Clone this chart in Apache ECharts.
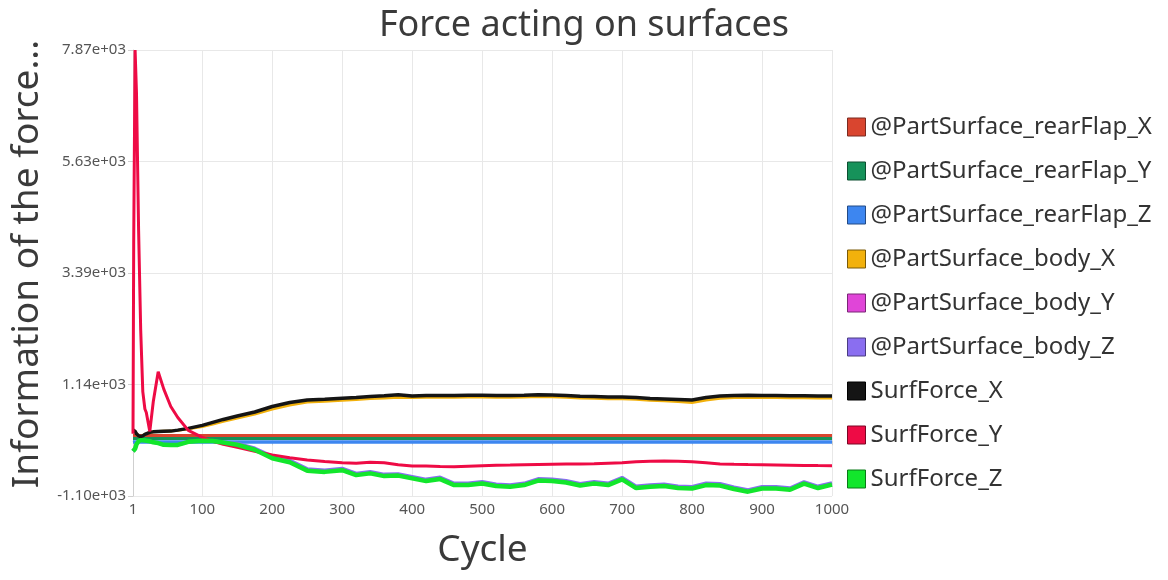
<!DOCTYPE html>
<html>
<head>
<meta charset="utf-8">
<script src="https://cdn.jsdelivr.net/npm/echarts@6/dist/echarts.min.js"></script>
<style>
html,body{margin:0;padding:0;background:#fff;}
#chart{width:1168px;height:580px;}
</style>
</head>
<body>
<div id="chart"></div>
<script>
const title = 'Force acting on surfaces';
const xName = 'Cycle';
const yName = 'Information of the force...';
const xTicks = [1, 100, 200, 300, 400, 500, 600, 700, 800, 900, 1000];
const yMin = -1100, yMax = 7870, yStep = 2242.5;

const cycles = [1, 2, 4, 6, 9, 12, 15, 18, 20, 25, 30, 37, 45, 55, 65, 80, 100, 115, 130, 150, 175, 200, 225, 250, 275, 300, 320, 340, 360, 380, 400, 420, 440, 460, 480, 500, 520, 540, 560, 580, 600, 620, 640, 660, 680, 700, 720, 740, 760, 780, 800, 820, 840, 860, 880, 900, 920, 940, 960, 980, 1000];

const seriesNames = ['@PartSurface_rearFlap_X', '@PartSurface_rearFlap_Y', '@PartSurface_rearFlap_Z', '@PartSurface_body_X', '@PartSurface_body_Y', '@PartSurface_body_Z', 'SurfForce_X', 'SurfForce_Y', 'SurfForce_Z'];
const colors = ['#d9452f', '#16925a', '#3d86f0', '#f2b10c', '#e045d8', '#8a6ef0', '#151515', '#ee0b45', '#12e62c'];
const borders = ['#7a2a20', '#0c4f31', '#234a85', '#7a5a08', '#7a2676', '#4a3c82', '#000000', '#7a0624', '#0a7a18'];

const rearFlapX = [115, 115, 115, 115, 115, 115, 115, 115, 115, 115, 115, 115, 115, 115, 115, 115, 115, 115, 115, 115, 115, 115, 115, 115, 115, 115, 115, 115, 115, 115, 115, 115, 115, 115, 115, 115, 115, 115, 115, 115, 115, 115, 115, 115, 115, 115, 115, 115, 115, 115, 115, 115, 115, 115, 115, 115, 115, 115, 115, 115, 115];
const rearFlapY = [55, 55, 55, 55, 55, 55, 55, 55, 55, 55, 55, 55, 55, 55, 55, 55, 55, 55, 55, 55, 55, 55, 55, 55, 55, 55, 55, 55, 55, 55, 55, 55, 55, 55, 55, 55, 55, 55, 55, 55, 55, 55, 55, 55, 55, 55, 55, 55, 55, 55, 55, 55, 55, 55, 55, 55, 55, 55, 55, 55, 55];
const rearFlapZ = [-15, -15, -15, -15, -15, -15, -15, -15, -15, -15, -15, -15, -15, -15, -15, -15, -15, -15, -15, -15, -15, -15, -15, -15, -15, -15, -15, -15, -15, -15, -15, -15, -15, -15, -15, -15, -15, -15, -15, -15, -15, -15, -15, -15, -15, -15, -15, -15, -15, -15, -15, -15, -15, -15, -15, -15, -15, -15, -15, -15, -15];
const bodyX = [230, 240, 200, 150, 110, 95, 110, 140, 150, 180, 190, 195, 200, 205, 220, 250, 295, 345, 400, 470, 550, 650, 730, 790, 805, 825, 840, 860, 870, 885, 880, 885, 885, 885, 890, 890, 885, 885, 890, 900, 895, 885, 870, 865, 855, 855, 845, 825, 815, 800, 780, 830, 865, 880, 885, 880, 880, 875, 875, 872, 870];
const bodyY = [80, 80, 80, 80, 80, 80, 80, 80, 80, 80, 80, 80, 80, 80, 80, 80, 80, 80, 80, 80, 80, 80, 80, 80, 80, 80, 80, 80, 80, 80, 80, 80, 80, 80, 80, 80, 80, 80, 80, 80, 80, 80, 80, 80, 80, 80, 80, 80, 80, 80, 80, 80, 80, 80, 80, 80, 80, 80, 80, 80, 80];
const bodyZ = [-200, -230, -150, -60, 0, 20, 20, 15, 10, 0, -20, -35, -70, -76, -72, -10, 12, 5, -20, -45, -140, -300, -385, -555, -580, -545, -645, -610, -665, -655, -710, -765, -725, -845, -845, -815, -865, -878, -845, -755, -765, -795, -855, -815, -845, -730, -905, -878, -865, -905, -915, -845, -855, -925, -978, -915, -915, -940, -815, -905, -835];
const surfX = [230, 240, 200, 150, 110, 95, 110, 140, 150, 180, 190, 195, 200, 205, 225, 260, 320, 380, 440, 510, 590, 700, 780, 830, 845, 865, 880, 900, 915, 935, 910, 920, 920, 920, 925, 925, 920, 920, 925, 935, 930, 920, 905, 900, 890, 890, 880, 860, 850, 840, 830, 880, 910, 920, 925, 920, 920, 915, 915, 912, 910];
const surfY = [150, 4000, 7870, 7000, 4250, 2240, 1000, 650, 580, 200, 800, 1400, 1050, 700, 480, 220, 80, 0, -60, -120, -200, -275, -330, -376, -405, -430, -443, -420, -430, -470, -495, -497, -505, -511, -500, -490, -480, -477, -470, -465, -460, -458, -457, -450, -440, -430, -412, -400, -396, -400, -410, -430, -455, -462, -468, -470, -475, -480, -485, -488, -490];
const surfZ = [-200, -230, -150, -60, 0, 20, 20, 15, 10, 0, -20, -35, -70, -76, -72, -10, 12, 5, -25, -70, -170, -340, -420, -590, -615, -580, -680, -645, -700, -690, -745, -800, -760, -880, -880, -850, -900, -913, -880, -790, -800, -830, -890, -850, -880, -765, -940, -913, -900, -940, -950, -880, -890, -960, -1013, -950, -950, -975, -850, -940, -870];

const values = [rearFlapX, rearFlapY, rearFlapZ, bodyX, bodyY, bodyZ, surfX, surfY, surfZ];
const widths = [3, 3, 3.5, 3, 3, 3.5, 3.5, 3, 4.5];
const zs = [3, 3, 3, 3, 2, 3, 3, 3, 3];

function fmtExp(v) {
  let s = Number(v).toExponential(2);
  return s.replace(/e([+-])(\d)$/, 'e$10$2');
}

const FONT = '"Noto Sans", "Open Sans", sans-serif';

const chart = echarts.init(document.getElementById('chart'), null, {renderer: 'canvas'});
chart.setOption({
  animation: false,
  backgroundColor: '#ffffff',
  title: {
    text: title, left: 'center', top: 3,
    textStyle: {fontFamily: FONT, fontSize: 36, fontWeight: 'normal', color: '#3a3a3a'}
  },
  legend: {
    orient: 'vertical', left: 842, top: 110,
    itemWidth: 18, itemHeight: 18, itemGap: 20,
    icon: 'rect',
    textStyle: {fontFamily: FONT, fontSize: 24, color: '#333'},
    data: seriesNames.map((n, i) => ({name: n, itemStyle: {color: colors[i], borderColor: borders[i], borderWidth: 1}}))
  },
  grid: {left: 133, right: 336, top: 50, bottom: 84, containLabel: false, outerBoundsMode: 'none'},
  xAxis: {
    type: 'value', min: 1, max: 1000,
    name: xName, nameLocation: 'middle', nameGap: 36,
    nameTextStyle: {fontFamily: FONT, fontSize: 37, color: '#3a3a3a'},
    axisLine: {show: true, lineStyle: {color: '#cfcfcf', width: 1}},
    axisTick: {show: true, length: 4, lineStyle: {color: '#cfcfcf'}, customValues: xTicks},
    axisLabel: {fontFamily: FONT, fontSize: 15, color: '#555', margin: 6, customValues: xTicks, formatter: v => String(v)},
    splitLine: {show: true, lineStyle: {color: '#e8e8e8', width: 1}}
  },
  yAxis: {
    type: 'value', min: yMin, max: yMax, interval: yStep,
    name: yName, nameLocation: 'middle', nameRotate: 90, nameGap: 82,
    nameTextStyle: {fontFamily: FONT, fontSize: 37, color: '#3a3a3a', padding: [0, 0, 0, 18]},
    axisLine: {show: true, lineStyle: {color: '#cfcfcf', width: 1}},
    axisTick: {show: true, length: 5, lineStyle: {color: '#cfcfcf'}},
    axisLabel: {fontFamily: FONT, fontSize: 15, color: '#555', margin: 7, formatter: fmtExp},
    splitLine: {show: true, lineStyle: {color: '#e8e8e8', width: 1}}
  },
  series: seriesNames.map((n, i) => ({
    name: n, type: 'line', showSymbol: false, symbol: 'none',
    z: zs[i],
    color: colors[i],
    lineStyle: {width: widths[i], color: colors[i]},
    data: cycles.map((c, k) => [c, values[i][k]])
  }))
});
</script>
</body>
</html>
